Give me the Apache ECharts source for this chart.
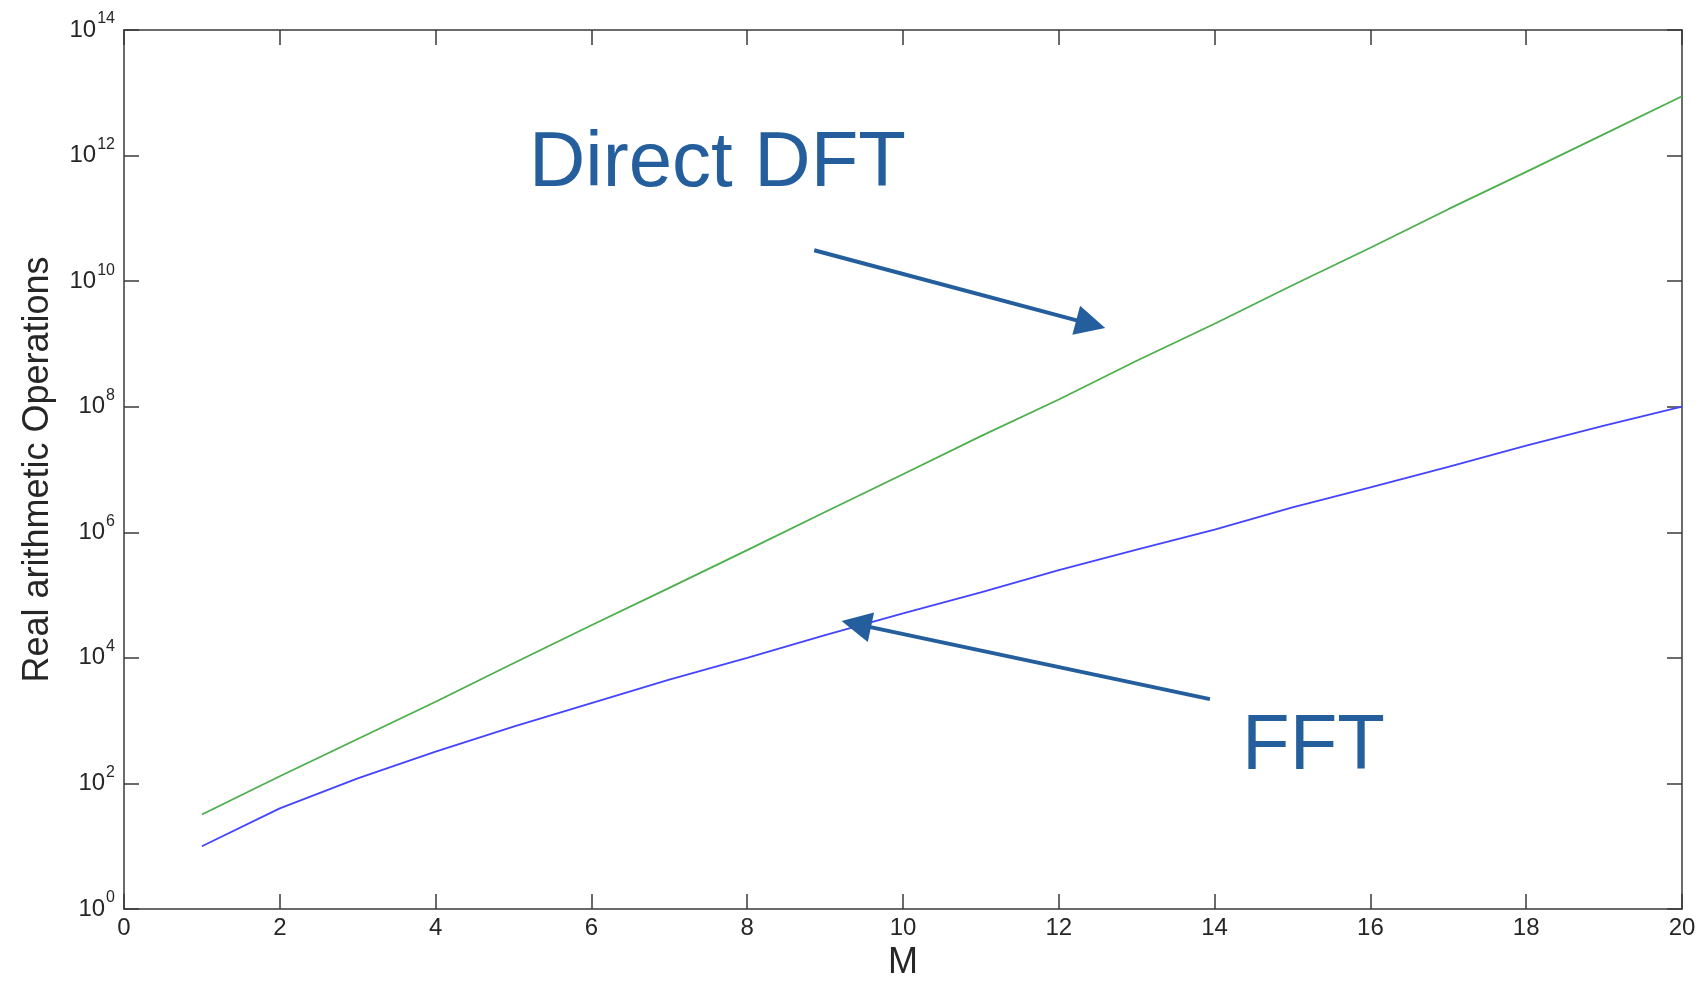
<!DOCTYPE html>
<html>
<head>
<meta charset="utf-8">
<script src="https://cdn.jsdelivr.net/npm/echarts@6/dist/echarts.min.js"></script>
<style>
html,body{margin:0;padding:0;background:#fff;}
#main{width:1699px;height:981px;}
</style>
</head>
<body>
<div id="main"></div>
<script>
// Data
var M = [1,2,3,4,5,6,7,8,9,10,11,12,13,14,15,16,17,18,19,20];
var directDFT = [32, 130, 510, 2.0e3, 8.2e3, 3.3e4, 1.3e5, 5.2e5, 2.1e6, 8.4e6, 3.4e7, 1.3e8, 5.4e8, 2.1e9, 8.6e9, 3.4e10, 1.4e11, 5.5e11, 2.2e12, 8.8e12];
var fft = [10, 40, 120, 320, 800, 1.9e3, 4.5e3, 1.0e4, 2.3e4, 5.1e4, 1.1e5, 2.5e5, 5.3e5, 1.1e6, 2.5e6, 5.2e6, 1.1e7, 2.4e7, 5.0e7, 1.0e8];
var xTicks = [0,2,4,6,8,10,12,14,16,18,20];
var yExponents = [0,2,4,6,8,10,12,14];
// annotation arrows (data space): [startM, startValue, endM, endValue]
var arrowDFT = [8.86, 3.1e10, 12.41, 2.07e9];
var arrowFFT = [13.94, 2.2e3, 9.40, 3.45e4];
var labelDFT = 'Direct DFT';
var labelFFT = 'FFT';

function pairs(xs, ys){ return xs.map(function(x,i){ return [x, ys[i]]; }); }

var FONT = '"Liberation Sans", Arial, Helvetica, sans-serif';
var AXC = '#3a3a3a';
var TXT = '#262626';
var ANN = '#245E9C';

var chart = echarts.init(document.getElementById('main'));
var tickCommon = {show:true, inside:true, length:15, lineStyle:{color:AXC, width:1.5}};
var option = {
  backgroundColor:'#fff',
  animation:false,
  grid:{left:124, right:17, top:30, bottom:72, containLabel:false, outerBoundsMode:'none'},
  xAxis:[{
    type:'value', min:0, max:20, interval:2, position:'bottom',
    name:'M', nameLocation:'middle', nameGap:34,
    nameTextStyle:{fontSize:36, color:TXT, fontFamily:FONT},
    axisLine:{show:true, onZero:false, lineStyle:{color:AXC, width:1.5}},
    axisTick:tickCommon,
    axisLabel:{fontSize:24, color:TXT, fontFamily:FONT, margin:7},
    splitLine:{show:false}
  },{
    type:'value', min:0, max:20, interval:2, position:'top',
    axisLine:{show:true, onZero:false, lineStyle:{color:AXC, width:1.5}},
    axisTick:tickCommon, axisLabel:{show:false}, splitLine:{show:false}
  }],
  yAxis:[{
    type:'log', logBase:10, min:1, max:1e14, interval:2, position:'left',
    name:'Real arithmetic Operations', nameLocation:'middle', nameGap:68,
    nameTextStyle:{fontSize:36, color:TXT, fontFamily:FONT},
    axisLine:{show:true, onZero:false, lineStyle:{color:AXC, width:1.5}},
    axisTick:tickCommon,
    axisLabel:{
      margin:9, fontFamily:FONT,
      formatter:function(v){
        var e = Math.round(Math.log(v)/Math.LN10);
        return '{b|10}{s|' + e + '}';
      },
      rich:{
        b:{fontSize:24, color:TXT, fontFamily:FONT},
        s:{fontSize:16, color:TXT, fontFamily:FONT, padding:[0,0,22,1]}
      }
    },
    splitLine:{show:false}
  },{
    type:'log', logBase:10, min:1, max:1e14, interval:2, position:'right',
    axisLine:{show:true, onZero:false, lineStyle:{color:AXC, width:1.5}},
    axisTick:tickCommon, axisLabel:{show:false}, splitLine:{show:false}
  }],
  series:[{
    name:'Direct DFT', type:'line', data:pairs(M, directDFT),
    showSymbol:false, symbol:'none', lineStyle:{color:'#4caf4c', width:1.8},
    itemStyle:{color:'#4caf4c'},
    markLine:{
      silent:true, symbol:['none','triangle'], symbolSize:[30,30],
      label:{show:false},
      lineStyle:{color:ANN, width:4, type:'solid'},
      data:[[{coord:[arrowDFT[0], arrowDFT[1]]},{coord:[arrowDFT[2], arrowDFT[3]]}]]
    }
  },{
    name:'FFT', type:'line', data:pairs(M, fft),
    showSymbol:false, symbol:'none', lineStyle:{color:'#4444ff', width:1.8},
    itemStyle:{color:'#4444ff'},
    markLine:{
      silent:true, symbol:['none','triangle'], symbolSize:[30,30],
      label:{show:false},
      lineStyle:{color:ANN, width:4, type:'solid'},
      data:[[{coord:[arrowFFT[0], arrowFFT[1]]},{coord:[arrowFFT[2], arrowFFT[3]]}]]
    }
  }],
  graphic:[
    {type:'text', left:529, top:125, style:{text:labelDFT, fill:ANN, font:'78px ' + FONT}},
    {type:'text', left:1242, top:708, style:{text:labelFFT, fill:ANN, font:'78px ' + FONT}}
  ]
};
chart.setOption(option);
</script>
</body>
</html>
